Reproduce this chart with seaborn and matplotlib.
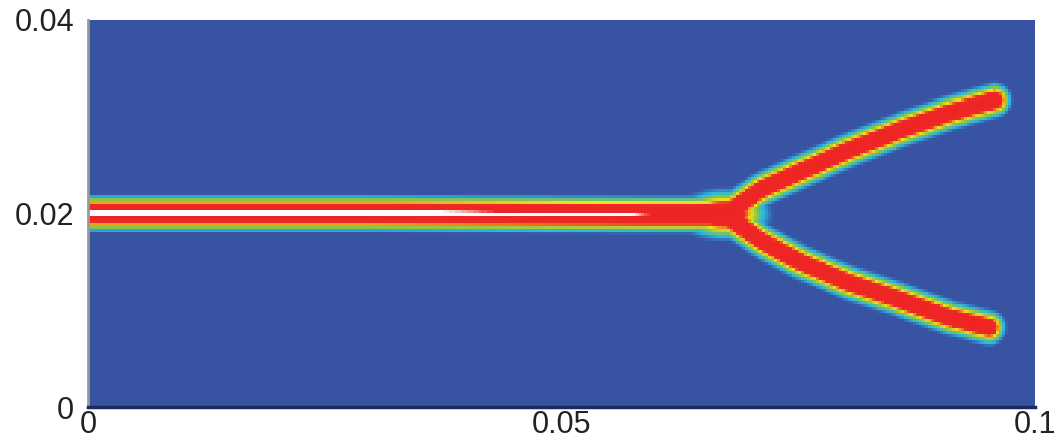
import numpy as np
import pandas as pd
import matplotlib
matplotlib.use("Agg")
import matplotlib.pyplot as plt
import seaborn as sns
from matplotlib.colors import LinearSegmentedColormap

# Crack paths in metres (domain 0.1 x 0.04)
main_x = [0.0000, 0.0300, 0.0600, 0.0678]
main_y = [0.0200, 0.0200, 0.0199, 0.0199]
upper_x = [0.0678, 0.0710, 0.0752, 0.0805, 0.0857, 0.0910, 0.0958]
upper_y = [0.0202, 0.0224, 0.0243, 0.0266, 0.0286, 0.0304, 0.0317]
lower_x = [0.0678, 0.0710, 0.0752, 0.0805, 0.0857, 0.0910, 0.0952]
lower_y = [0.0195, 0.0173, 0.0150, 0.0128, 0.0111, 0.0092, 0.0082]

# Damage levels and band sizes
branch_peak = 0.93
core_peak = 1.08
core_x_end = 0.058
main_width = 0.00145
branch_width = 0.00132
core_width = 0.00034
blob_x, blob_y = 0.0672, 0.0199
blob_rx, blob_ry = 0.0036, 0.0019

x_ticks = [0.0, 0.05, 0.1]
x_tick_labels = ["0", "0.05", "0.1"]
y_ticks = [0.0, 0.02, 0.04]
y_tick_labels = ["0", "0.02", "0.04"]

Lx, Ly = 0.1, 0.04
nx, ny = 320, 128

xc = (np.arange(nx) + 0.5) * Lx / nx
yc = Ly - (np.arange(ny) + 0.5) * Ly / ny  # top row first
X, Y = np.meshgrid(xc, yc)


def polyline_distance(px, py):
    d = np.full(X.shape, np.inf)
    for i in range(len(px) - 1):
        ax_, ay_ = px[i], py[i]
        bx_, by_ = px[i + 1], py[i + 1]
        vx, vy = bx_ - ax_, by_ - ay_
        t = ((X - ax_) * vx + (Y - ay_) * vy) / (vx * vx + vy * vy)
        t = np.clip(t, 0, 1)
        dd = np.hypot(X - (ax_ + t * vx), Y - (ay_ + t * vy))
        d = np.minimum(d, dd)
    return d


r_main = polyline_distance(main_x, main_y)
r_branch = np.minimum(polyline_distance(upper_x, upper_y),
                      polyline_distance(lower_x, lower_y))

damage = np.maximum(branch_peak * np.exp(-(r_main / main_width) ** 3),
                    branch_peak * np.exp(-(r_branch / branch_width) ** 2.5))

rb = np.hypot((X - blob_x) / blob_rx, (Y - blob_y) / blob_ry)
damage = np.maximum(damage, branch_peak * np.exp(-rb ** 2.5))

taper = np.clip((core_x_end + 0.004 - X) / 0.008, 0, 1)
core = (0.9 + (core_peak - 0.9) * taper) * np.exp(-(r_main / core_width) ** 4)
core[X > core_x_end + 0.004] = 0
damage = np.maximum(damage, core)

field = pd.DataFrame(damage)

cmap = LinearSegmentedColormap.from_list(
    "damage",
    [(0.00, "#3953a3"), (0.06, "#3953a3"), (0.20, "#2cb6e3"), (0.38, "#8cc63f"),
     (0.55, "#f2e21c"), (0.70, "#ec2a26"), (0.96, "#ee2424"), (1.00, "#ffffff")],
)

sns.set_theme(style="white")
plt.rcParams["font.family"] = ["Liberation Sans", "DejaVu Sans"]

fig = plt.figure(figsize=(10.6, 4.41), dpi=100)
ax = fig.add_axes([0.083, 0.077, 0.893, 0.878])
sns.heatmap(field, ax=ax, cmap=cmap, vmin=0, vmax=1, cbar=False,
            xticklabels=False, yticklabels=False, rasterized=True)

ax.set_xticks([v / Lx * nx for v in x_ticks])
ax.set_xticklabels(x_tick_labels, rotation=0)
ax.set_yticks([(Ly - v) / Ly * ny for v in y_ticks])
ax.set_yticklabels(y_tick_labels, rotation=0)
ax.tick_params(axis="both", length=0, labelsize=22, colors="#222222")
ax.tick_params(axis="x", pad=2)
ax.tick_params(axis="y", pad=10)

for side in ["top", "right"]:
    ax.spines[side].set_visible(False)
ax.spines["left"].set_visible(True)
ax.spines["left"].set_color("#999999")
ax.spines["left"].set_linewidth(2)
ax.spines["bottom"].set_visible(True)
ax.spines["bottom"].set_color("#1c2a5c")
ax.spines["bottom"].set_linewidth(2.5)

fig.savefig("out.png", dpi=100)
